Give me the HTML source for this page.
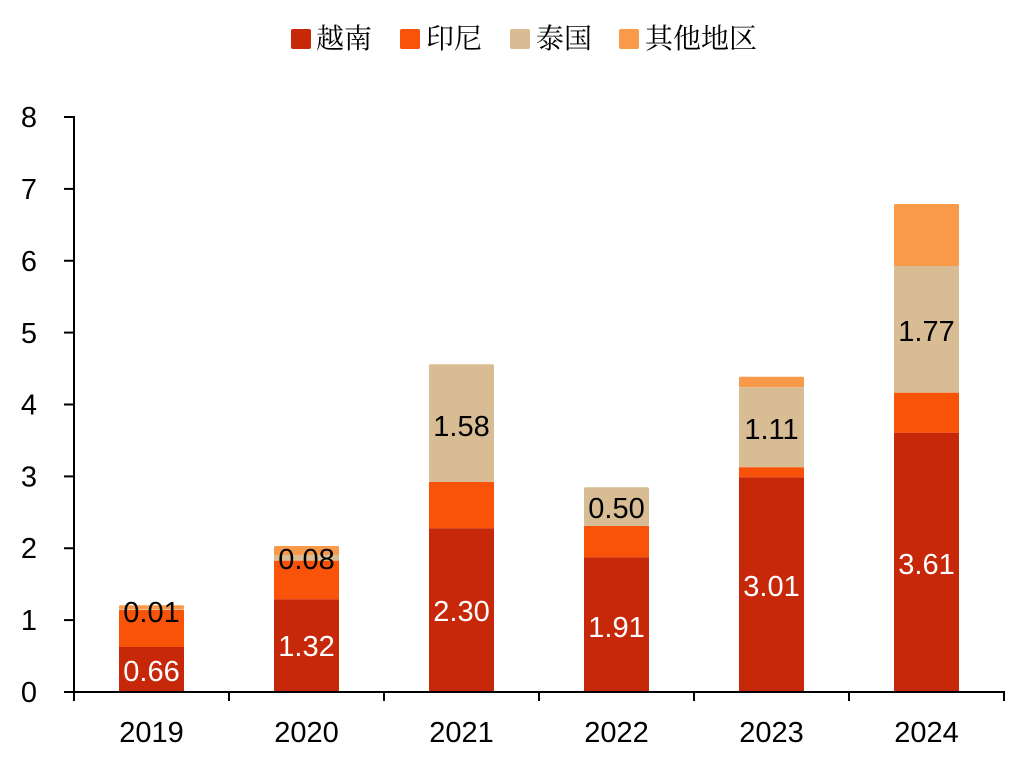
<!DOCTYPE html>
<html>
<head>
<meta charset="utf-8">
<style>
html,body{margin:0;padding:0;background:#fff;}
svg{display:block;}
.t{font-family:"Liberation Sans","DejaVu Sans",sans-serif;font-size:29px;fill:#000;}
.w{fill:#fff;}
.lg{font-family:"Liberation Serif","Noto Serif CJK SC","Noto Sans CJK SC",serif;font-size:28px;fill:#000;}
</style>
</head>
<body>
<svg width="1030" height="760" viewBox="0 0 1030 760" xmlns="http://www.w3.org/2000/svg">
<rect width="1030" height="760" fill="#fff"/>

<!-- legend -->
<rect x="291" y="29" width="20" height="20" rx="2" fill="#C8280A"/>
<text class="lg" x="316" y="48">越南</text>
<rect x="400" y="29" width="20" height="20" rx="2" fill="#F9530A"/>
<text class="lg" x="426" y="48">印尼</text>
<rect x="510" y="29" width="20" height="20" rx="2" fill="#D8BC94"/>
<text class="lg" x="536" y="48">泰国</text>
<rect x="619" y="29" width="20" height="20" rx="2" fill="#F89A4A"/>
<text class="lg" x="645" y="48">其他地区</text>

<!-- bars 2019 -->
<g>
<rect x="119" y="605.3" width="65" height="4" rx="1.5" fill="#F89A4A"/>
<rect x="119" y="609.3" width="65" height="1" fill="#D8BC94"/>
<rect x="119" y="610" width="65" height="37" fill="#F9530A"/>
<rect x="119" y="647" width="65" height="45" fill="#C8280A"/>
</g>
<!-- 2020 -->
<g>
<rect x="274" y="546" width="65" height="9.5" rx="1.5" fill="#F89A4A"/>
<rect x="274" y="555" width="65" height="5.7" fill="#D8BC94"/>
<rect x="274" y="560.7" width="65" height="38.6" fill="#F9530A"/>
<rect x="274" y="599.3" width="65" height="92.7" fill="#C8280A"/>
</g>
<!-- 2021 -->
<g>
<rect x="429" y="364.3" width="65" height="117.7" rx="1.5" fill="#D8BC94"/>
<rect x="429" y="482" width="65" height="46.3" fill="#F9530A"/>
<rect x="429" y="528.3" width="65" height="163.7" fill="#C8280A"/>
</g>
<!-- 2022 -->
<g>
<rect x="584" y="487.3" width="65" height="38.7" rx="1.5" fill="#D8BC94"/>
<rect x="584" y="526" width="65" height="31.3" fill="#F9530A"/>
<rect x="584" y="557.3" width="65" height="134.7" fill="#C8280A"/>
</g>
<!-- 2023 -->
<g>
<rect x="739" y="376.7" width="65" height="10.6" rx="1.5" fill="#F89A4A"/>
<rect x="739" y="387.3" width="65" height="80" fill="#D8BC94"/>
<rect x="739" y="467.3" width="65" height="10" fill="#F9530A"/>
<rect x="739" y="477.3" width="65" height="214.7" fill="#C8280A"/>
</g>
<!-- 2024 -->
<g>
<rect x="894" y="204" width="65" height="62" rx="1.5" fill="#F89A4A"/>
<rect x="894" y="266" width="65" height="126.7" fill="#D8BC94"/>
<rect x="894" y="392.7" width="65" height="40" fill="#F9530A"/>
<rect x="894" y="432.7" width="65" height="259.3" fill="#C8280A"/>
</g>

<!-- data labels -->
<g text-anchor="middle">
<text class="t w" x="151.5" y="681">0.66</text>
<text class="t" x="151.5" y="622">0.01</text>
<text class="t w" x="306.5" y="656">1.32</text>
<text class="t" x="306.5" y="569">0.08</text>
<text class="t w" x="461.5" y="621">2.30</text>
<text class="t" x="461.5" y="436">1.58</text>
<text class="t w" x="616.5" y="637">1.91</text>
<text class="t" x="616.5" y="518">0.50</text>
<text class="t w" x="771.5" y="596">3.01</text>
<text class="t" x="771.5" y="439">1.11</text>
<text class="t w" x="926.5" y="574">3.61</text>
<text class="t" x="926.5" y="341">1.77</text>
</g>

<!-- axes -->
<g stroke="#000" stroke-width="2" fill="none">
<line x1="74" y1="116" x2="74" y2="693"/>
<line x1="73" y1="692" x2="1005" y2="692"/>
<line x1="64" y1="117" x2="74" y2="117"/>
<line x1="64" y1="188.9" x2="74" y2="188.9"/>
<line x1="64" y1="260.75" x2="74" y2="260.75"/>
<line x1="64" y1="332.6" x2="74" y2="332.6"/>
<line x1="64" y1="404.5" x2="74" y2="404.5"/>
<line x1="64" y1="476.4" x2="74" y2="476.4"/>
<line x1="64" y1="548.25" x2="74" y2="548.25"/>
<line x1="64" y1="620.1" x2="74" y2="620.1"/>
<line x1="64" y1="692" x2="74" y2="692"/>
<line x1="74" y1="692" x2="74" y2="701"/>
<line x1="229" y1="692" x2="229" y2="701"/>
<line x1="384" y1="692" x2="384" y2="701"/>
<line x1="539" y1="692" x2="539" y2="701"/>
<line x1="694" y1="692" x2="694" y2="701"/>
<line x1="849" y1="692" x2="849" y2="701"/>
<line x1="1004" y1="692" x2="1004" y2="701"/>
</g>

<!-- y tick labels -->
<g text-anchor="end">
<text class="t" x="37" y="127">8</text>
<text class="t" x="37" y="199">7</text>
<text class="t" x="37" y="271">6</text>
<text class="t" x="37" y="343">5</text>
<text class="t" x="37" y="414.5">4</text>
<text class="t" x="37" y="486.5">3</text>
<text class="t" x="37" y="558">2</text>
<text class="t" x="37" y="630">1</text>
<text class="t" x="37" y="702">0</text>
</g>

<!-- x labels -->
<g text-anchor="middle">
<text class="t" x="151.5" y="742">2019</text>
<text class="t" x="306.5" y="742">2020</text>
<text class="t" x="461.5" y="742">2021</text>
<text class="t" x="616.5" y="742">2022</text>
<text class="t" x="771.5" y="742">2023</text>
<text class="t" x="926.5" y="742">2024</text>
</g>
</svg>
</body>
</html>
